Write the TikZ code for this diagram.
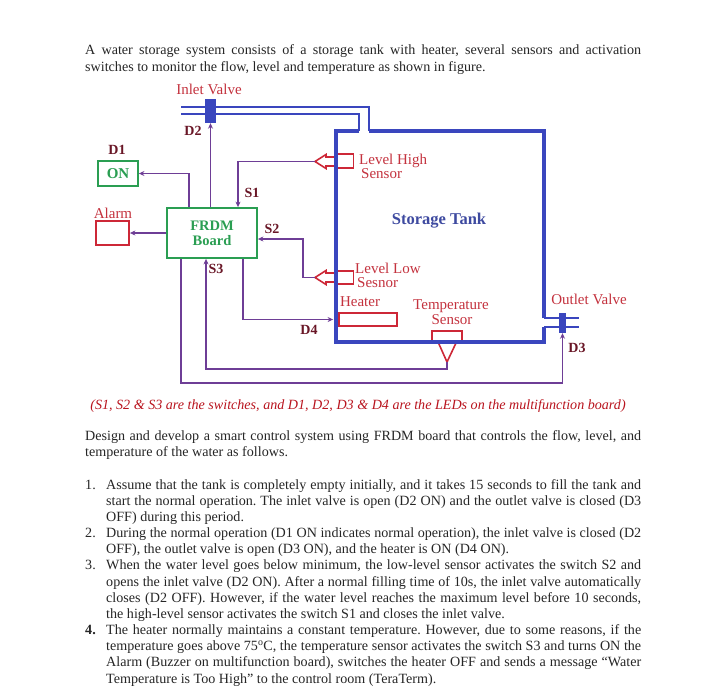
\documentclass[tikz,border=0pt]{standalone}
\usepackage{fontspec}
\setmainfont{Liberation Serif}
\usetikzlibrary{arrows.meta}
\frenchspacing
\definecolor{tankblue}{RGB}{58,70,190}
\definecolor{tanktext}{RGB}{62,74,160}
\definecolor{labred}{RGB}{196,50,62}
\definecolor{boxred}{RGB}{205,40,55}
\definecolor{tagred}{RGB}{105,22,38}
\definecolor{grn}{RGB}{42,158,82}
\definecolor{purp}{RGB}{110,62,150}
\definecolor{capred}{RGB}{185,20,30}
\definecolor{bodygray}{RGB}{38,38,38}
\tikzset{
  conn/.style={draw=purp, line width=1.3pt, -{Stealth[length=5.5pt,width=5pt]}},
  lbl/.style={text=labred, font=\fontsize{15}{17}\selectfont, inner sep=0},
  tag/.style={text=tagred, font=\fontsize{14}{16}\selectfont\bfseries, inner sep=0},
  bodytxt/.style={text=bodygray, font=\fontsize{14.1}{16}\selectfont, inner sep=0, anchor=base west},
  numtxt/.style={text=bodygray, font=\fontsize{14.1}{16}\selectfont, inner sep=0, anchor=base west},
  redbox/.style={draw=boxred, line width=1.8pt, fill=white, inner sep=0},
  grnbox/.style={draw=grn, line width=1.8pt, fill=white, inner sep=0, text=grn, font=\fontsize{14.5}{16}\selectfont\bfseries, align=center},
  wall/.style={draw=tankblue, line width=4.3pt},
  pipe/.style={draw=tankblue, line width=2.2pt},
  sens/.style={draw=boxred, line width=1.6pt, fill=white, line join=miter},
}
\begin{document}
\begin{tikzpicture}[x=1pt,y=-1pt]
\useasboundingbox[fill=white] (0,0) rectangle (706,696);

% ---------- top paragraph ----------
\node[bodytxt] (p1a) at (85,54.8) {\makebox[556pt][s]{A water storage system consists of a storage tank with heater, several sensors and activation}};
\node[bodytxt] (p1b) at (85,71) {switches to monitor the flow, level and temperature as shown in figure.};

% ---------- pipes and valves ----------
\draw[pipe] (181,107) -- (369,107) -- (369,131);
\draw[pipe] (181,114) -- (359,114) -- (359,131);
\draw[pipe] (544,318) -- (579,318);
\draw[pipe] (544,327) -- (579,327);
\node[fill=tankblue, minimum width=11pt, minimum height=24pt, inner sep=0] (iv) at (210.5,111) {};
\node[fill=tankblue, minimum width=7pt, minimum height=20pt, inner sep=0] (ov) at (562.5,323) {};

% ---------- sensors ----------
\node[redbox, minimum width=17pt, minimum height=14pt] (hs) at (345,161) {};
\node[redbox, minimum width=17pt, minimum height=13pt] (ls) at (345,277.5) {};
\node[redbox, minimum width=58pt, minimum height=13pt] (heater) at (368,319.5) {};
\node[redbox, minimum width=30pt, minimum height=11pt] (ts) at (447,336.5) {};
\draw[sens] (336,157) -- (326,157) -- (326,154.5) -- (315,161.5) -- (326,168.5) -- (326,166) -- (336,166);
\draw[sens] (336,273) -- (326,273) -- (326,270.5) -- (315,277.5) -- (326,284.5) -- (326,282) -- (336,282);
\draw[sens] (438.5,343) -- (456,343) -- (447,362) -- cycle;
\coordinate (hsTip) at (315,161.5);
\coordinate (lsTip) at (315,277.5);
\coordinate (tsTip) at (447,362);

% ---------- tank ----------
\draw[wall, line cap=butt] (359,131) -- (336,131) -- (336,342) -- (544,342) -- (544,327);
\draw[wall, line cap=butt] (544,318) -- (544,131) -- (369,131);
\node[text=tanktext, font=\fontsize{16.5}{18}\selectfont\bfseries, inner sep=0] (tank) at (439,221) {Storage Tank};

% ---------- board and indicators ----------
\node[grnbox, minimum width=90pt, minimum height=50pt] (frdm) at (212,233) {FRDM\\[-1pt]Board};
\node[grnbox, minimum width=40pt, minimum height=25pt, font=\fontsize{15}{16}\selectfont\bfseries] (on) at (118,173.5) {ON};
\node[redbox, minimum width=33pt, minimum height=24pt] (alarm) at (112.5,233) {};

% ---------- connectors ----------
\draw[conn] ([xshift=-23pt]frdm.north) |- (on.east);
\draw[conn] (frdm.north -| iv.south) -- (iv.south);
\draw[conn] (hsTip) -| ([xshift=26pt]frdm.north);
\draw[conn] (lsTip) -- ++(-12,0) |- ([yshift=-6pt]frdm.east);
\draw[conn] (frdm.west) -- (alarm.east);
\draw[conn] (tsTip) -- ++(0,7) -| ([xshift=-6pt]frdm.south);
\draw[conn] ([xshift=-31pt]frdm.south) -- ++(0,124) -| (ov.south);
\draw[conn] ([xshift=31pt]frdm.south) |- ([xshift=-5pt]heater.west);

% ---------- labels ----------
\node[lbl] (lIV) at (209,89) {Inlet Valve};
\node[lbl] (lAl) at (113,213) {Alarm};
\node[lbl, anchor=west] (lHS1) at (359,161) {Level High};
\node[lbl, anchor=west] (lHS2) at (361,174) {Sensor};
\node[lbl, anchor=west] (lLS1) at (355,268) {Level Low};
\node[lbl, anchor=west] (lLS2) at (357,282.5) {Sesnor};
\node[lbl] (lHt) at (360,302) {Heater};
\node[lbl] (lTS1) at (451,306) {Temperature};
\node[lbl] (lTS2) at (452,320) {Sensor};
\node[lbl] (lOV) at (589,299) {Outlet Valve};
\node[tag] (tD1) at (117,150) {D1};
\node[tag] (tD2) at (193,131) {D2};
\node[tag] (tS1) at (252,193) {S1};
\node[tag] (tS2) at (272,229) {S2};
\node[tag] (tS3) at (216,269) {S3};
\node[tag] (tD4) at (309,330) {D4};
\node[tag] (tD3) at (577,348) {D3};

% ---------- caption ----------
\node[text=capred, font=\fontsize{14.1}{16}\selectfont\itshape, inner sep=0, anchor=base] (cap) at (358,409) {(S1, S2 \& S3 are the switches, and D1, D2, D3 \& D4 are the LEDs on the multifunction board)};

% ---------- design paragraph ----------
\node[bodytxt] (p2a) at (85,440) {\makebox[556pt][s]{Design and develop a smart control system using FRDM board that controls the flow, level, and}};
\node[bodytxt] (p2b) at (85,456) {temperature of the water as follows.};

% ---------- list ----------
\node[numtxt] (n1) at (85,489) {1.};
\node[bodytxt] (i1a) at (106,489) {\makebox[535pt][s]{Assume that the tank is completely empty initially, and it takes 15 seconds to fill the tank and}};
\node[bodytxt] (i1b) at (106,505.2) {\makebox[535pt][s]{start the normal operation. The inlet valve is open (D2 ON) and the outlet valve is closed (D3}};
\node[bodytxt] (i1c) at (106,521.3) {OFF) during this period.};
\node[numtxt] (n2) at (85,537.5) {2.};
\node[bodytxt] (i2a) at (106,537.5) {\makebox[535pt][s]{During the normal operation (D1 ON indicates normal operation), the inlet valve is closed (D2}};
\node[bodytxt] (i2b) at (106,553.7) {OFF), the outlet valve is open (D3 ON), and the heater is ON (D4 ON).};
\node[numtxt] (n3) at (85,569.9) {3.};
\node[bodytxt] (i3a) at (106,569.9) {\makebox[535pt][s]{When the water level goes below minimum, the low-level sensor activates the switch S2 and}};
\node[bodytxt] (i3b) at (106,586) {\makebox[535pt][s]{opens the inlet valve (D2 ON). After a normal filling time of 10s, the inlet valve automatically}};
\node[bodytxt] (i3c) at (106,602.2) {\makebox[535pt][s]{closes (D2 OFF). However, if the water level reaches the maximum level before 10 seconds,}};
\node[bodytxt] (i3d) at (106,618.4) {the high-level sensor activates the switch S1 and closes the inlet valve.};
\node[numtxt, font=\fontsize{14.1}{16}\selectfont\bfseries] (n4) at (85,634.5) {4.};
\node[bodytxt] (i4a) at (106,634.5) {\makebox[535pt][s]{The heater normally maintains a constant temperature. However, due to some reasons, if the}};
\node[bodytxt] (i4b) at (106,650.7) {\makebox[535pt][s]{temperature goes above 75\textsuperscript{o}C, the temperature sensor activates the switch S3 and turns ON the}};
\node[bodytxt] (i4c) at (106,666.9) {\makebox[535pt][s]{Alarm (Buzzer on multifunction board), switches the heater OFF and sends a message “Water}};
\node[bodytxt] (i4d) at (106,683) {Temperature is Too High” to the control room (TeraTerm).};
\end{tikzpicture}
\end{document}
